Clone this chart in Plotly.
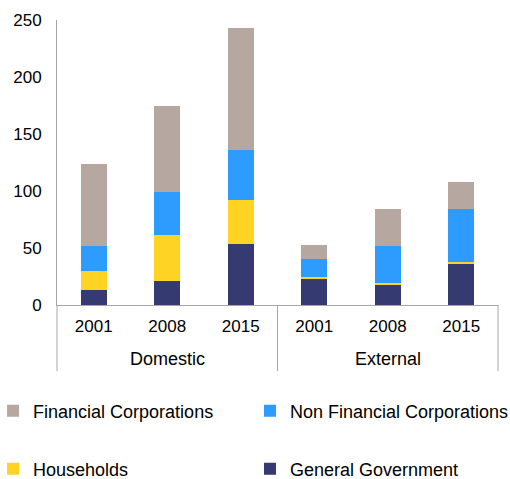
import plotly.graph_objects as go

# categories
groups = ["Domestic", "External"]
years = ["2001", "2008", "2015", "2001", "2008", "2015"]
categories = [g + " " + y for g in groups for y in ["2001", "2008", "2015"]]

# series values (stacked, bottom to top)
general_government = [13, 21, 53.5, 23, 18, 36]
households = [17, 40, 38.5, 1.5, 1, 2]
non_financial_corps = [22, 38, 44, 15.5, 33, 46]
financial_corps = [72, 76, 107, 13, 32, 24]

y_ticks = [0, 50, 100, 150, 200, 250]

font_family = "Liberation Sans, Arial, sans-serif"
axis_grey = "#a6a6a6"

# name, values, colour, legend id, legend position (x paper, y paper)
series = [
    ("General Government", general_government, "#353a70", "legend4", (0.4376, -0.5754)),
    ("Households", households, "#fed324", "legend3", (-0.145, -0.5754)),
    ("Non Financial Corporations", non_financial_corps, "#2e9bff", "legend2", (0.4376, -0.372)),
    ("Financial Corporations", financial_corps, "#b6a8a0", "legend", (-0.145, -0.372)),
]

fig = go.Figure()
legends = {}
for name, vals, color, leg, pos in series:
    fig.add_trace(go.Bar(
        x=categories,
        y=vals,
        name=name,
        marker=dict(color=color, line=dict(width=0)),
        legend=leg,
        showlegend=True,
    ))
    legends[leg] = dict(
        x=pos[0], y=pos[1],
        xanchor="left", yanchor="middle",
        orientation="h",
        font=dict(family=font_family, size=18, color="#000000"),
        bgcolor="rgba(0,0,0,0)",
    )

fig.update_layout(
    width=510,
    height=479,
    margin=dict(l=57, r=12, t=20, b=174, autoexpand=False),
    paper_bgcolor="white",
    plot_bgcolor="white",
    barmode="stack",
    bargap=0.65,
    showlegend=True,
    font=dict(family=font_family, size=17, color="#000000"),
    **legends,
)

# group labels under the years
for i, g in enumerate(groups):
    fig.add_annotation(
        x=categories[i * 3 + 1], xref="x",
        y=-0.19, yref="paper",
        text=g, showarrow=False,
        yanchor="middle",
        font=dict(family=font_family, size=18, color="#000000"),
    )

# group dividers below the axis
for xp in [0, 0.5, 1]:
    fig.add_shape(
        type="line", xref="paper", yref="paper",
        x0=xp, x1=xp, y0=0, y1=-0.232,
        line=dict(color=axis_grey, width=1),
    )

fig.update_xaxes(
    type="category",
    tickvals=categories,
    ticktext=years,
    showline=True,
    linecolor=axis_grey,
    linewidth=1,
    ticks="",
    showgrid=False,
    ticklabelstandoff=6,
    tickfont=dict(family=font_family, size=17, color="#000000"),
)
fig.update_yaxes(
    range=[0, 250],
    tickvals=y_ticks,
    showline=True,
    linecolor=axis_grey,
    linewidth=1,
    showgrid=False,
    zeroline=False,
    ticks="",
    ticklabelstandoff=11,
    tickfont=dict(family=font_family, size=17, color="#000000"),
)

# drop the default body margin so the figure fills the window
fig.write_html(
    "out.html",
    config={"displayModeBar": False},
    post_script="document.body.style.margin = '0';",
)
